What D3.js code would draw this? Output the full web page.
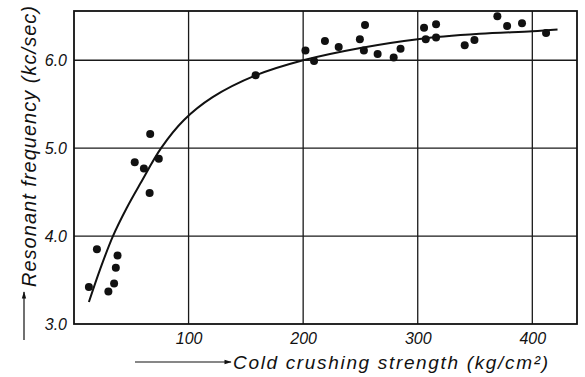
<!DOCTYPE html>
<html>
<head>
<meta charset="utf-8">
<script src="https://cdn.jsdelivr.net/npm/d3@7"></script>
<style>
  body { margin: 0; background: #fff; }
  svg text { font-family: "Liberation Sans Narrow", "Liberation Sans", "DejaVu Sans", sans-serif; font-style: italic; fill: #111; }
</style>
</head>
<body>
<svg id="chart" width="585" height="377"></svg>
<script>
// measured points: cold crushing strength (kg/cm2) vs resonant frequency (kc/sec)
const strength = [13, 20, 30, 35, 36.5, 38, 66, 53, 61, 66.5, 74, 158.5,
  202, 209.5, 219, 231, 249.5, 254, 253, 265, 279, 285, 305.5, 307, 316, 316, 341, 349.5, 369.5, 378, 391, 412];
const frequency = [3.42, 3.85, 3.37, 3.46, 3.64, 3.78, 4.49, 4.84, 4.77, 5.16, 4.88, 5.83,
  6.11, 5.99, 6.22, 6.15, 6.24, 6.40, 6.11, 6.07, 6.03, 6.13, 6.37, 6.24, 6.41, 6.26, 6.17, 6.23, 6.50, 6.39, 6.42, 6.31];

// fitted curve
const curveX = [13, 23, 34, 46, 58, 76, 96, 121, 159, 200, 250, 300, 354, 400, 422];
const curveY = [3.25, 3.63, 4.0, 4.32, 4.60, 5.0, 5.32, 5.58, 5.83, 6.0, 6.14, 6.24, 6.30, 6.33, 6.35];

const xTicks = [100, 200, 300, 400];
const yTicks = [3.0, 4.0, 5.0, 6.0];

const margin = { top: 11, right: 8, bottom: 53, left: 74 };
const width = 585 - margin.left - margin.right;
const height = 377 - margin.top - margin.bottom;

const svg = d3.select('#chart');
const g = svg.append('g').attr('transform', `translate(${margin.left},${margin.top})`);

const x = d3.scaleLinear().domain([0, 439]).range([0, width]);
const y = d3.scaleLinear().domain([3.0, 6.56]).range([height, 0]);

// grid
g.selectAll('.vgrid').data(xTicks).enter().append('line')
  .attr('x1', d => x(d)).attr('x2', d => x(d))
  .attr('y1', 0).attr('y2', height)
  .attr('stroke', '#1a1a1a').attr('stroke-width', 1.3);
g.selectAll('.hgrid').data(yTicks.slice(1)).enter().append('line')
  .attr('x1', 0).attr('x2', width)
  .attr('y1', d => y(d)).attr('y2', d => y(d))
  .attr('stroke', '#1a1a1a').attr('stroke-width', 1.3);

// frame
g.append('rect')
  .attr('x', 0).attr('y', 0).attr('width', width).attr('height', height)
  .attr('fill', 'none').attr('stroke', '#111').attr('stroke-width', 1.8);

// axes (labels only)
const xAxis = g.append('g').attr('transform', `translate(0,${height})`)
  .call(d3.axisBottom(x).tickValues(xTicks).tickSize(0).tickPadding(9).tickFormat(d3.format('d')));
const yAxis = g.append('g')
  .call(d3.axisLeft(y).tickValues(yTicks).tickSize(0).tickPadding(7).tickFormat(d3.format('.1f')));
[xAxis, yAxis].forEach(a => {
  a.select('.domain').remove();
  a.selectAll('text').style('font-size', '16px').style('font-family', null).attr('fill', '#111');
});

// fitted curve
const line = d3.line()
  .x((d, i) => x(curveX[i]))
  .y(d => y(d))
  .curve(d3.curveCatmullRom.alpha(0.5));
g.append('path')
  .datum(curveY)
  .attr('d', line)
  .attr('fill', 'none')
  .attr('stroke', '#111')
  .attr('stroke-width', 2);

// points
g.selectAll('.pt').data(strength).enter().append('circle')
  .attr('cx', d => x(d))
  .attr('cy', (d, i) => y(frequency[i]))
  .attr('r', 4)
  .attr('fill', '#111');

// arrow marker
svg.append('defs').append('marker')
  .attr('id', 'arr').attr('viewBox', '0 0 10 10')
  .attr('refX', 9).attr('refY', 5)
  .attr('markerWidth', 8).attr('markerHeight', 6)
  .attr('orient', 'auto')
  .append('path').attr('d', 'M0,2 L10,5 L0,8 Z').attr('fill', '#111');

// x title
svg.append('line')
  .attr('x1', 135).attr('x2', 231).attr('y1', 362).attr('y2', 362)
  .attr('stroke', '#111').attr('stroke-width', 1.2).attr('marker-end', 'url(#arr)');
svg.append('text')
  .attr('x', 233).attr('y', 369)
  .attr('textLength', 315).attr('lengthAdjust', 'spacing')
  .style('font-size', '19px')
  .text('Cold crushing strength (kg/cm²)');

// y title
svg.append('line')
  .attr('x1', 24).attr('x2', 24).attr('y1', 340).attr('y2', 292)
  .attr('stroke', '#111').attr('stroke-width', 1.2).attr('marker-end', 'url(#arr)');
svg.append('text')
  .attr('transform', 'translate(36,287) rotate(-90)')
  .attr('textLength', 281).attr('lengthAdjust', 'spacing')
  .style('font-size', '20px')
  .text('Resonant  frequency (kc/sec)');
</script>
</body>
</html>
